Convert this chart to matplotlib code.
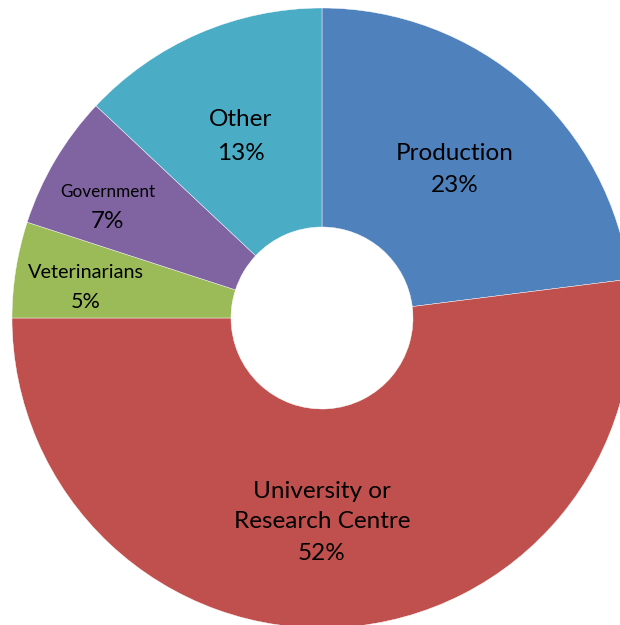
import matplotlib
matplotlib.use('Agg')
import matplotlib.pyplot as plt

# Datos del gráfico
categorias = ['Production', 'University or\nResearch Centre', 'Veterinarians', 'Government', 'Other']
valores = [23, 52, 5, 7, 13]
colores = ['#4F81BD', '#C0504D', '#9BBB59', '#8064A2', '#4BACC6']

plt.rcParams['font.family'] = ['Lato', 'DejaVu Sans']

fig = plt.figure(figsize=(6.2, 6.25), dpi=100, facecolor='white')
ax = fig.add_axes([0, 0, 1, 1])

cx, cy = 322, 625 - 318
r_ext, r_int = 310, 91

ax.pie(valores, colors=colores, startangle=90, counterclock=False,
       center=(cx, cy), radius=r_ext, frame=True,
       wedgeprops=dict(width=r_ext - r_int, edgecolor='white', linewidth=0.3))
ax.set_xlim(0, 620)
ax.set_ylim(0, 625)
ax.set_aspect('equal')
ax.axis('off')

# Etiquetas (posición en píxeles desde arriba)
etiquetas = [
    ('Production', 455, 154, 17.5), ('23%', 455, 186, 17.5),
    ('University or', 322, 491, 17.5), ('Research Centre', 322, 521, 17.5), ('52%', 322, 553, 17.5),
    ('Veterinarians', 86, 272, 14.3), ('5%', 86, 302, 15.5),
    ('Government', 108, 192, 12.3), ('7%', 108, 222, 17.5),
    ('Other', 241, 120, 17.5), ('13%', 241, 153, 17.5),
]
for txt, x, y, fs in etiquetas:
    ax.text(x, 625 - y, txt, ha='center', va='center', fontsize=fs, color='black')

fig.savefig('out.png', dpi=100, facecolor='white')
